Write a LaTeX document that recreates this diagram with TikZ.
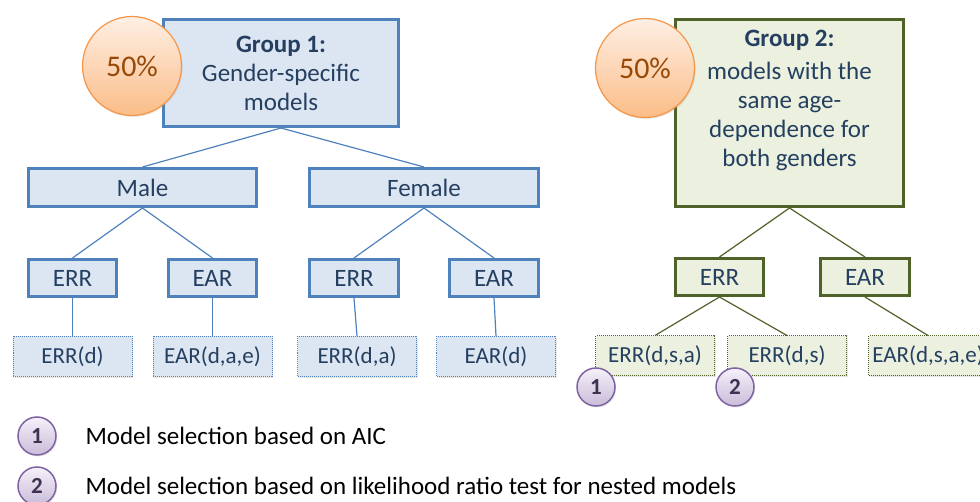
\documentclass[tikz,border=0pt]{standalone}
\usepackage{fontspec}
\setmainfont{Carlito}
\usetikzlibrary{shadows}

\definecolor{boxblue}{HTML}{4F81BD}
\definecolor{fillblue}{HTML}{DCE6F2}
\definecolor{boxgreen}{HTML}{4F6228}
\definecolor{fillgreen}{HTML}{EBF1DE}
\definecolor{navytext}{HTML}{243F60}
\definecolor{pctline}{HTML}{F79646}
\definecolor{pcttop}{HTML}{FEEFE4}
\definecolor{pctbot}{HTML}{FBBD88}
\definecolor{pcttext}{HTML}{984807}
\definecolor{badgeline}{HTML}{8064A2}
\definecolor{badgetop}{HTML}{F5F1F9}
\definecolor{badgebot}{HTML}{C9BCDA}
\definecolor{badgetext}{HTML}{3F3151}

\begin{document}
\begin{tikzpicture}[x=1pt,y=-1pt,
  softshadow/.style={drop shadow={opacity=0.18,shadow xshift=1.2pt,shadow yshift=-1.5pt}},
  groupbox/.style={draw,line width=3pt,inner sep=0pt,align=center,
    font=\fontsize{25}{29}\selectfont,text=navytext,softshadow},
  bluebox/.style={groupbox,draw=boxblue,fill=fillblue},
  greenbox/.style={groupbox,draw=boxgreen,fill=fillgreen},
  leafbox/.style={draw,line width=1pt,dash pattern=on 1pt off 1pt,inner sep=0pt,
    minimum width=119,minimum height=40,font=\fontsize{23}{27}\selectfont,text=navytext,softshadow},
  blueleaf/.style={leafbox,draw=boxblue,fill=fillblue},
  greenleaf/.style={leafbox,draw=boxgreen,fill=fillgreen},
  bluelink/.style={draw=boxblue,line width=1.2pt},
  greenlink/.style={draw=boxgreen,line width=1.2pt},
  pct/.style={circle,draw=pctline,line width=1.2pt,top color=pcttop,bottom color=pctbot,
    minimum size=99,inner sep=0pt,font=\fontsize{30}{32}\selectfont,text=pcttext,softshadow},
  badge/.style={circle,draw=badgeline,line width=1.5pt,top color=badgetop,bottom color=badgebot,
    minimum size=38,inner sep=0pt,font=\bfseries\fontsize{23}{25}\selectfont,text=badgetext,softshadow},
  legendtext/.style={anchor=west,font=\fontsize{25}{29}\selectfont,text=black}
]
\useasboundingbox (0,0) rectangle (980,502);
\clip (0,0) rectangle (980,502);

% Group 1: gender-specific models
\node[bluebox,minimum width=235,minimum height=107] (g1) at (281,73)
  {\textbf{Group 1:}\\Gender-specific\\models};
\node[pct] (pct1) at (132,66) {50\%};

\node[bluebox,minimum width=228,minimum height=38] (male) at (142.5,187.5) {Male};
\node[bluebox,minimum width=229,minimum height=38] (female) at (424,187.5) {Female};

\node[bluebox,minimum width=88,minimum height=37] (errm) at (72.5,278) {ERR};
\node[bluebox,minimum width=88,minimum height=37] (earm) at (212.5,278) {EAR};
\node[bluebox,minimum width=89,minimum height=37] (errf) at (354,278) {ERR};
\node[bluebox,minimum width=89,minimum height=37] (earf) at (494,278) {EAR};

\node[blueleaf] (errm1) at (72.5,356.5) {ERR(d)};
\node[blueleaf] (earm1) at (212.5,356.5) {EAR(d,a,e)};
\node[blueleaf] (errf1) at (357,356.5) {ERR(d,a)};
\node[blueleaf] (earf1) at (496,356.5) {EAR(d)};

\draw[bluelink] (g1.south) -- (male.north);
\draw[bluelink] (g1.south) -- (female.north);
\draw[bluelink] (male.south) -- (errm.north);
\draw[bluelink] (male.south) -- (earm.north);
\draw[bluelink] (female.south) -- (errf.north);
\draw[bluelink] (female.south) -- (earf.north);
\draw[bluelink] (errm.south) -- (errm1.north);
\draw[bluelink] (earm.south) -- (earm1.north);
\draw[bluelink] (errf.south) -- (errf1.north);
\draw[bluelink] (earf.south) -- (earf1.north);

% Group 2: same age-dependence for both genders
\node[greenbox,minimum width=228,minimum height=187] (g2) at (789.5,113)
  {\textbf{Group 2:}\\[4pt]models with the\\same age-\\dependence for\\both genders\\~};
\node[pct] (pct2) at (645,68) {50\%};

\node[greenbox,minimum width=88,minimum height=37] (errg) at (719.5,277) {ERR};
\node[greenbox,minimum width=89,minimum height=37] (earg) at (865,277) {EAR};

\node[greenleaf] (errg1) at (655,356) {ERR(d,s,a)};
\node[greenleaf] (errg2) at (787,356) {ERR(d,s)};
\node[greenleaf] (earg1) at (928,356) {EAR(d,s,a,e)};

\draw[greenlink] (g2.south) -- (errg.north);
\draw[greenlink] (g2.south) -- (earg.north);
\draw[greenlink] (errg.south) -- (errg1.north);
\draw[greenlink] (errg.south) -- (errg2.north);
\draw[greenlink] (earg.south) -- (earg1.north);

% Selection markers
\node[badge] (b1) at (596,387) {1};
\node[badge] (b2) at (735,387) {2};

% Legend
\node[badge] (lb1) at (37,436) {1};
\node[legendtext] (lt1) at (82,436) {Model selection based on AIC};
\node[badge] (lb2) at (37,486) {2};
\node[legendtext] (lt2) at (82,486) {Model selection based on likelihood ratio test for nested models};
\end{tikzpicture}
\end{document}
